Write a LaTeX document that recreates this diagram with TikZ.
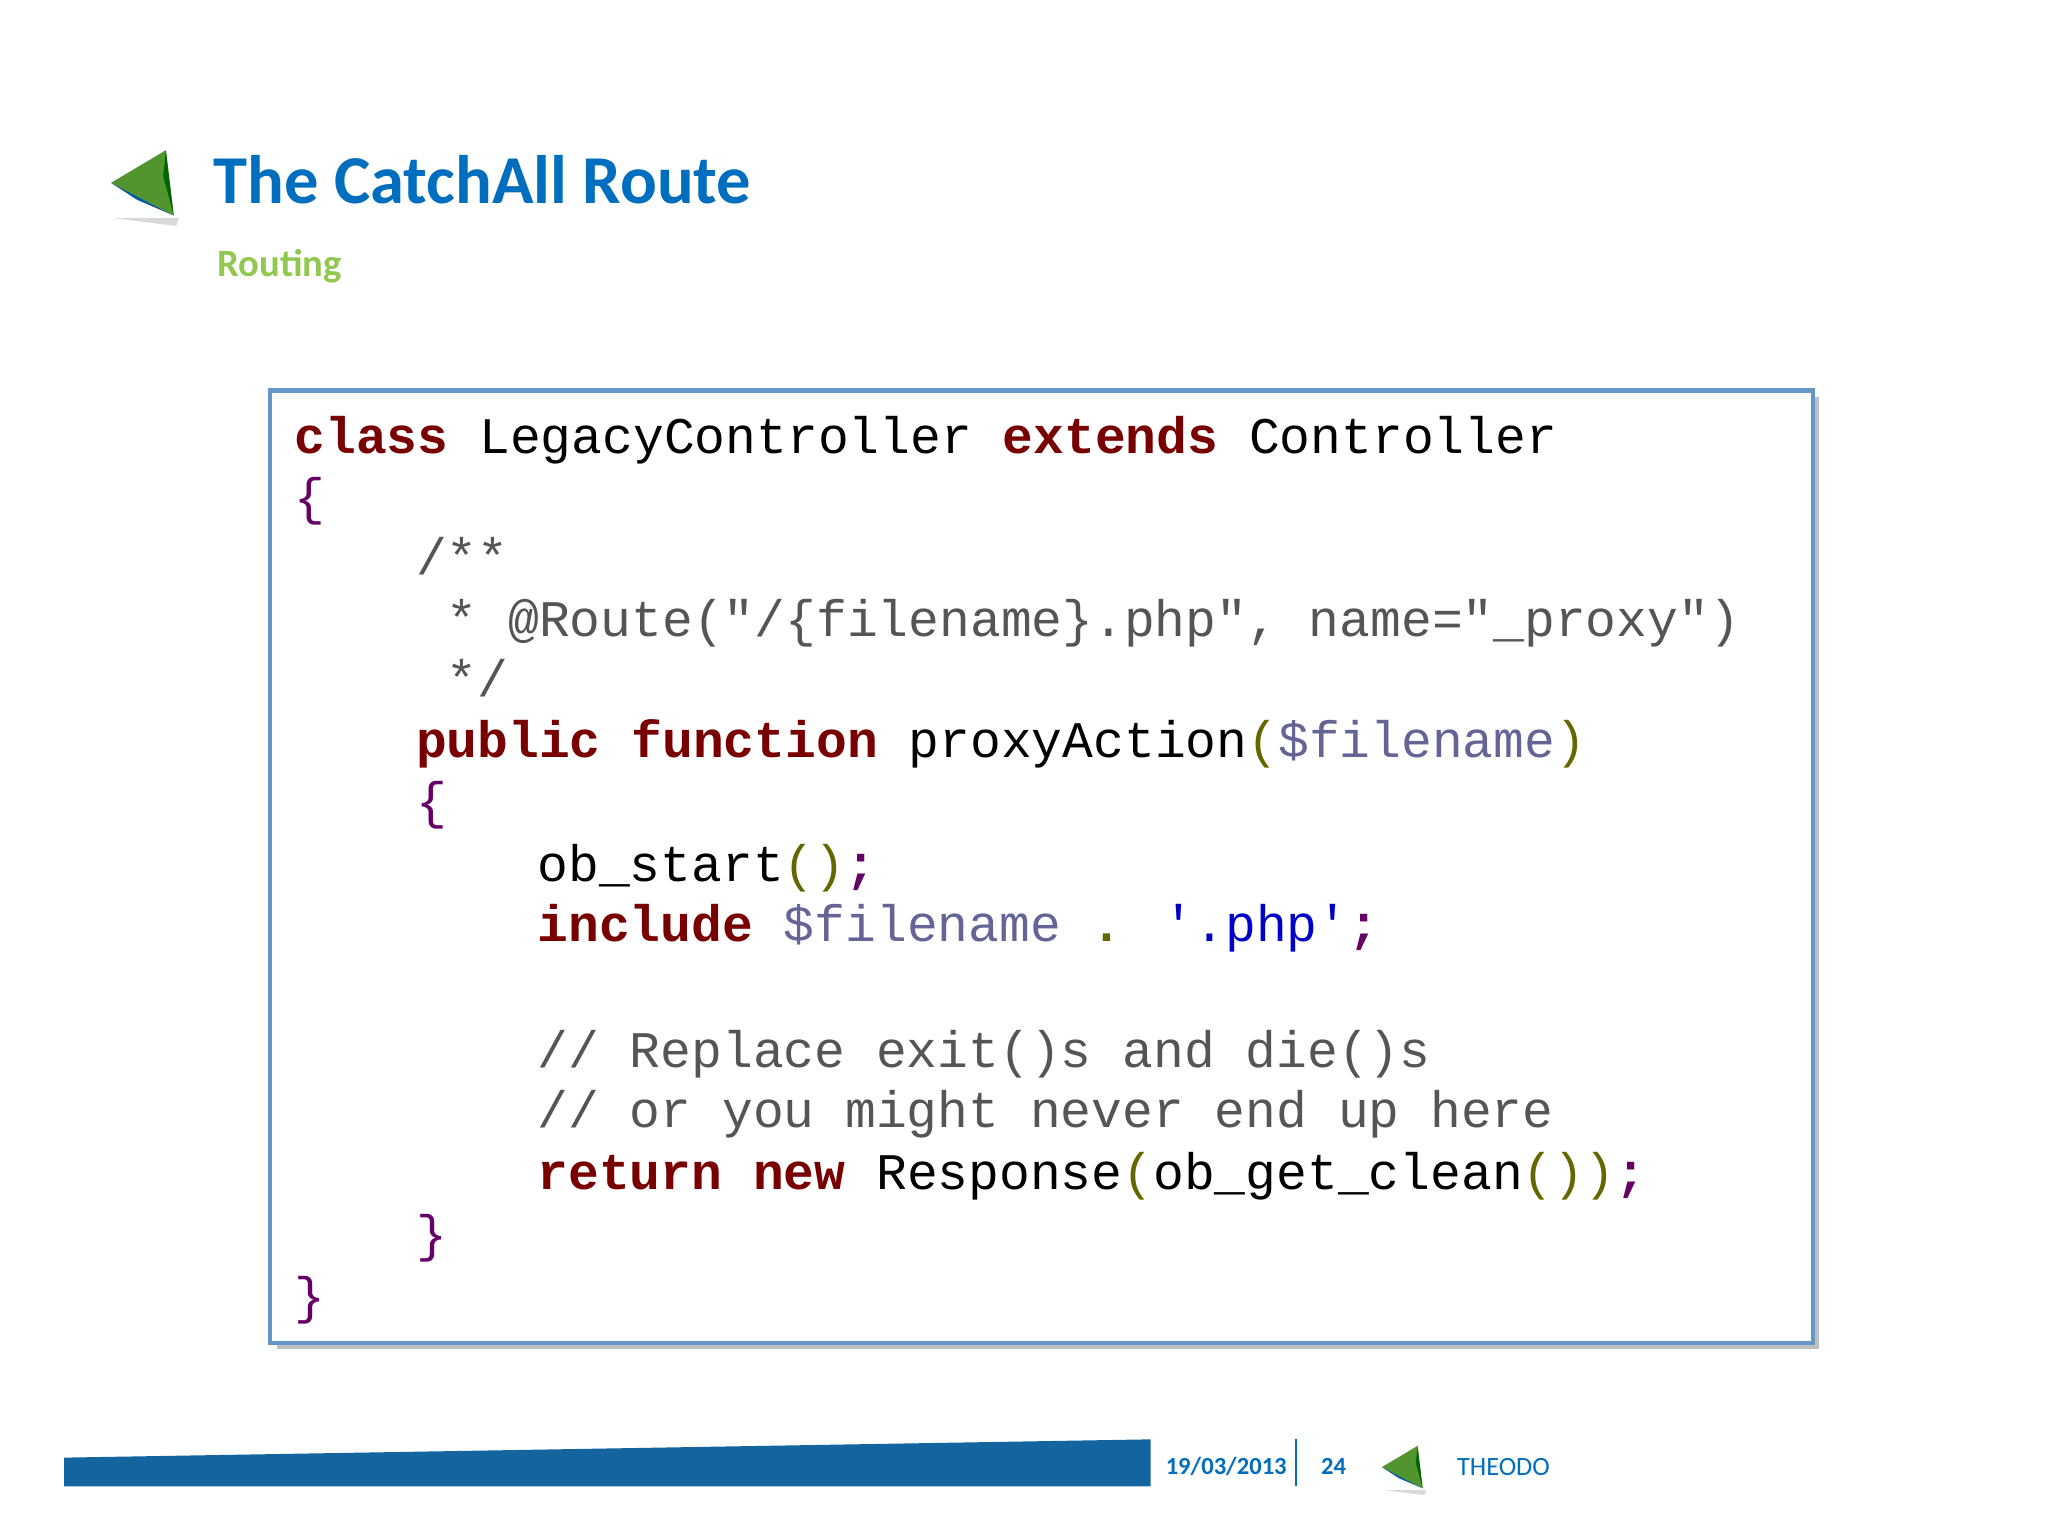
\documentclass[tikz,border=0pt]{standalone}
\usepackage{fontspec}
\setmainfont{Carlito}
\newfontfamily\codefont{Liberation Mono}
\definecolor{kw}{RGB}{120,0,0}
\definecolor{br}{RGB}{102,0,102}
\definecolor{pa}{RGB}{102,102,0}
\definecolor{vr}{RGB}{100,100,150}
\definecolor{cm}{RGB}{85,85,85}
\definecolor{st}{RGB}{0,0,200}
\definecolor{ttl}{RGB}{0,110,190}
\definecolor{grn}{RGB}{146,200,80}
\definecolor{bar}{RGB}{20,100,160}
\definecolor{boxb}{RGB}{100,150,200}
\newcommand{\K}[1]{\textcolor{kw}{\bfseries #1}}
\newcommand{\B}[1]{\textcolor{br}{#1}}
\newcommand{\Pa}[1]{\textcolor{pa}{#1}}
\newcommand{\V}[1]{\textcolor{vr}{#1}}
\newcommand{\Cm}[1]{\textcolor{cm}{#1}}
\tikzset{x=0.01306cm,y=-0.01306cm,
 code/.style={anchor=base west,inner sep=0pt,font=\codefont\fontsize{14.6}{14.6}\selectfont}}
\newcommand{\tri}[3]{% x y scale
 \begin{scope}[shift={(#1,#2)},scale=#3]
 \fill[black!15] (2,52)--(50,58)--(52,52)--cycle;
 \fill[grn!80!green!70!black] (0,25)--(42,0)--(48,50)--cycle;
 \fill[ttl!80!black] (0,25)--(48,50)--(20,38)--cycle;
 \fill[green!40!black] (42,0)--(48,50)--(40,20)--cycle;
 \end{scope}}
\begin{document}
\begin{tikzpicture}
\useasboundingbox (0,0) rectangle (1568,1176);
\fill[white] (0,0) rectangle (1568,1176);
\tri{85}{115}{1}
\node[anchor=base west,inner sep=0pt,text=ttl,font=\fontsize{19.5}{19.5}\selectfont\bfseries] (title) at (163,156) {The CatchAll Route};
\node[anchor=base west,inner sep=0pt,text=grn,font=\fontsize{11}{11}\selectfont\bfseries] (sub) at (166,212) {Routing};
\fill[black!25] (212,304) rectangle (1393,1033);
\draw[boxb,line width=1.2pt,fill=white] (207,299) rectangle (1388,1028);
\node[code] (l1) at (225,347) {\K{class} LegacyController \K{extends} Controller};
\node[code] (l2) at (225,394) {\B{\{}};
\node[code] (l3) at (318,440) {\Cm{/**}};
\node[code] (l4) at (318,487) {\Cm{~* @Route("/\{filename\}.php", name="\_proxy")}};
\node[code] (l5) at (318,533) {\Cm{~*/}};
\node[code] (l6) at (318,580) {\K{public} \K{function} proxyAction\Pa{(}\V{\$filename}\Pa{)}};
\node[code] (l7) at (318,627) {\B{\{}};
\node[code] (l8) at (411,675) {ob\_start\Pa{()}\B{\bfseries;}};
\node[code] (l9) at (411,721) {\K{include} \V{\$filename} \Pa{\bfseries.} \textcolor{st}{'.php'}\B{\bfseries;}};
\node[code] (l11) at (411,817) {\Cm{// Replace exit()s and die()s}};
\node[code] (l12) at (411,863) {\Cm{// or you might never end up here}};
\node[code] (l13) at (411,911) {\K{return} \K{new} Response\Pa{(}ob\_get\_clean\Pa{())}\B{\bfseries;}};
\node[code] (l14) at (318,958) {\B{\}}};
\node[code] (l15) at (225,1006) {\B{\}}};
\fill[bar] (49,1116)--(881,1102)--(881,1138)--(49,1138)--cycle;
\node[anchor=base west,inner sep=0pt,text=ttl,font=\fontsize{7}{7}\selectfont\bfseries] (date) at (892,1129) {19/03/2013};
\draw[ttl,line width=0.6pt] (992,1102)--(992,1138);
\node[anchor=base west,inner sep=0pt,text=ttl,font=\fontsize{7}{7}\selectfont\bfseries] (pg) at (1011,1129) {24};
\tri{1058}{1107}{0.65}
\node[anchor=base west,inner sep=0pt,text=ttl,font=\fontsize{7.5}{7.5}\selectfont] (th) at (1115,1130) {THEODO};
\end{tikzpicture}
\end{document}
